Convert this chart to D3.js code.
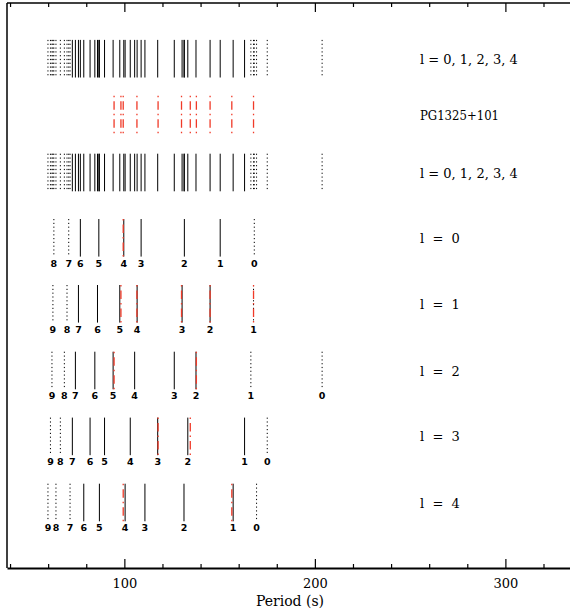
<!DOCTYPE html>
<html lang="en">
<head>
  <meta charset="UTF-8" />
  <title>PG1325+101 period spectrum</title>
  <script src="https://d3js.org/d3.v7.min.js"></script>
  <style>
    body {
      background-color: white;
      margin: 0;
    }
    svg {
      display: block;
    }
    .rowlabel {
      font-family: "DejaVu Serif", serif;
      font-size: 13px;
      fill: #000;
      white-space: pre;
    }
    .order {
      font-family: "DejaVu Sans", sans-serif;
      font-size: 9.5px;
      font-weight: bold;
      fill: #000;
    }
    .axislabel {
      font-family: "DejaVu Serif", serif;
      font-size: 13px;
      fill: #000;
    }
  </style>
</head>
<body>
  <svg></svg>

  <script>
    // model periods (s) per degree l, with radial order and which orders are dotted
    const l0Periods = [63.0, 70.8, 76.9, 86.6, 99.7, 108.8, 131.5, 150.3, 168.2];
    const l0Orders  = [8, 7, 6, 5, 4, 3, 2, 1, 0];
    const l0Dotted  = [8, 7, 0];

    const l1Periods = [62.5, 69.9, 75.9, 85.9, 97.6, 106.7, 130.3, 145.0, 167.8];
    const l1Orders  = [9, 8, 7, 6, 5, 4, 3, 2, 1];
    const l1Dotted  = [9, 8, 1];

    const l2Periods = [62.0, 68.5, 74.3, 84.5, 94.1, 105.4, 126.2, 137.6, 166.4, 203.8];
    const l2Orders  = [9, 8, 7, 6, 5, 4, 3, 2, 1, 0];
    const l2Dotted  = [9, 8, 1, 0];

    const l3Periods = [61.2, 66.4, 72.7, 82.0, 89.6, 103.1, 117.5, 133.3, 163.1, 175.0];
    const l3Orders  = [9, 8, 7, 6, 5, 4, 3, 2, 1, 0];
    const l3Dotted  = [9, 8, 0];

    const l4Periods = [59.9, 64.1, 71.5, 78.7, 86.9, 100.4, 110.8, 131.3, 157.1, 169.4];
    const l4Orders  = [9, 8, 7, 6, 5, 4, 3, 2, 1, 0];
    const l4Dotted  = [9, 8, 7, 0];

    // observed periods of PG1325+101, and the ones matched in each l row
    const observed = [94.6, 98.2, 99.4, 106.6, 117.7, 130.0, 134.6, 137.8, 145.0, 156.4, 167.8];
    const l0Matched = [99.4];
    const l1Matched = [98.2, 106.6, 130.0, 145.0, 167.8];
    const l2Matched = [94.6, 137.8];
    const l3Matched = [117.7, 134.6];
    const l4Matched = [99.4, 156.4];

    const xTicks = [100, 200, 300];

    const width = 570;
    const height = 612;

    const svg = d3.select("svg")
      .attr("width", width)
      .attr("height", height);

    const x = d3.scaleLinear().domain([38.4, 340]).range([7, 581.6]);
    const yTop = 3, yBottom = 568;

    const rows = [
      {label: "l = 0, 1, 2, 3, 4", y: 58.7, kind: "all"},
      {label: "PG1325+101",        y: 114.5, kind: "obs"},
      {label: "l = 0, 1, 2, 3, 4", y: 172.5, kind: "all"},
      {label: "l  =  0", y: 237.8, p: l0Periods, n: l0Orders, d: l0Dotted, m: l0Matched},
      {label: "l  =  1", y: 303.8, p: l1Periods, n: l1Orders, d: l1Dotted, m: l1Matched},
      {label: "l  =  2", y: 370.5, p: l2Periods, n: l2Orders, d: l2Dotted, m: l2Matched},
      {label: "l  =  3", y: 436.4, p: l3Periods, n: l3Orders, d: l3Dotted, m: l3Matched},
      {label: "l  =  4", y: 502.5, p: l4Periods, n: l4Orders, d: l4Dotted, m: l4Matched}
    ];
    const half = 18.8;

    function modes(p, n, d) {
      return p.map((v, i) => ({period: v, order: n[i], dotted: d.includes(n[i])}));
    }
    const allModes = [].concat(
      modes(l0Periods, l0Orders, l0Dotted),
      modes(l1Periods, l1Orders, l1Dotted),
      modes(l2Periods, l2Orders, l2Dotted),
      modes(l3Periods, l3Orders, l3Dotted),
      modes(l4Periods, l4Orders, l4Dotted)
    );

    function drawModes(g, data, y) {
      g.selectAll("line.mode")
        .data(data)
        .enter().append("line")
        .attr("class", "mode")
        .attr("x1", d => x(d.period))
        .attr("x2", d => x(d.period))
        .attr("y1", y - half)
        .attr("y2", y + half)
        .attr("stroke", "#000")
        .attr("stroke-width", 1)
        .attr("stroke-dasharray", d => d.dotted ? "1.2,2.6" : null);
    }

    function drawObs(g, data, y) {
      g.selectAll("line.obs")
        .data(data)
        .enter().append("line")
        .attr("class", "obs")
        .attr("x1", d => x(d))
        .attr("x2", d => x(d))
        .attr("y1", y - half)
        .attr("y2", y + half)
        .attr("stroke", "#f03a28")
        .attr("stroke-width", 1.3)
        .attr("stroke-dasharray", "1.5,4,8.5,4");
    }

    rows.forEach(r => {
      const g = svg.append("g");
      if (r.kind === "all") {
        drawModes(g, allModes, r.y);
      } else if (r.kind === "obs") {
        drawObs(g, observed, r.y);
      } else {
        const data = modes(r.p, r.n, r.d);
        drawModes(g, data, r.y);
        drawObs(g, r.m, r.y);
        g.selectAll("text.order")
          .data(data)
          .enter().append("text")
          .attr("class", "order")
          .attr("x", d => x(d.period))
          .attr("y", r.y + half + 10)
          .attr("text-anchor", "middle")
          .text(d => d.order);
      }
      const t = svg.append("text")
        .attr("class", "rowlabel")
        .attr("x", 420)
        .attr("y", r.y + 5)
        .text(r.label);
      if (r.kind === "obs") {
        t.attr("textLength", 79).attr("lengthAdjust", "spacingAndGlyphs");
      }
    });

    // frame: top and left borders, bottom axis
    svg.append("line")
      .attr("x1", x.range()[0]).attr("x2", x.range()[1])
      .attr("y1", yTop).attr("y2", yTop)
      .attr("stroke", "#000").attr("stroke-width", 1.5);
    svg.append("line")
      .attr("x1", x.range()[0]).attr("x2", x.range()[0])
      .attr("y1", yTop).attr("y2", yBottom)
      .attr("stroke", "#000").attr("stroke-width", 1.5);

    const minor = d3.range(40, 341, 20);

    // inward ticks on the top edge
    const topAxis = d3.axisTop(x)
      .tickValues(minor)
      .tickSizeOuter(0)
      .tickFormat("");
    const gTop = svg.append("g").attr("transform", `translate(0,${yTop})`).call(topAxis);
    gTop.select(".domain").remove();
    gTop.selectAll(".tick line")
      .attr("y2", d => xTicks.includes(d) ? 9 : 4)
      .attr("stroke-width", 1.2);

    const bottomAxis = d3.axisBottom(x)
      .tickValues(minor)
      .tickSizeOuter(0)
      .tickFormat(d => xTicks.includes(d) ? d : "");
    const gBot = svg.append("g").attr("transform", `translate(0,${yBottom})`).call(bottomAxis);
    gBot.attr("font-family", null).attr("font-size", null);
    gBot.select(".domain").attr("stroke-width", 2);
    gBot.selectAll(".tick line")
      .attr("y2", d => xTicks.includes(d) ? -9 : -4)
      .attr("stroke-width", 1.2);
    gBot.selectAll(".tick text")
      .attr("class", "axislabel")
      .attr("y", 11);

    svg.append("text")
      .attr("class", "axislabel")
      .attr("x", 290)
      .attr("y", 606)
      .attr("text-anchor", "middle")
      .style("font-size", "14px")
      .text("Period (s)");
  </script>
</body>
</html>
